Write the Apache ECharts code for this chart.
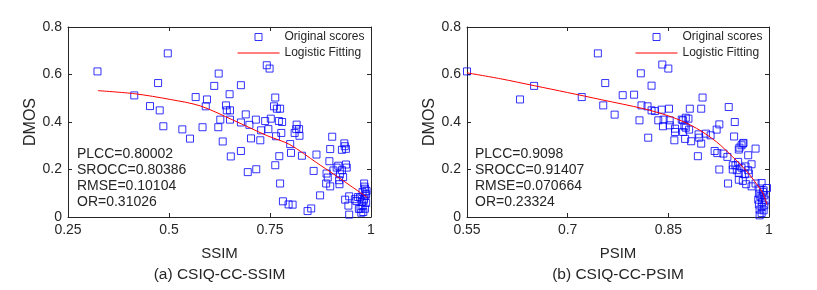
<!DOCTYPE html>
<html><head><meta charset="utf-8">
<script src="https://cdn.jsdelivr.net/npm/echarts@6/dist/echarts.min.js"></script>
<style>html,body{margin:0;padding:0;background:#fff}#c{width:817px;height:290px}</style>
</head><body><div id="c"></div>
<script>
// ---- data ----
const ssimPoints = [[0.323,0.613],[0.414,0.512],[0.497,0.689],[0.473,0.564],[0.453,0.467],[0.477,0.449],[0.486,0.382],[0.533,0.369],[0.552,0.330],[0.566,0.505],[0.583,0.378],[0.594,0.495],[0.591,0.466],[0.623,0.604],[0.612,0.552],[0.622,0.378],[0.627,0.410],[0.633,0.318],[0.641,0.470],[0.643,0.449],[0.651,0.449],[0.651,0.410],[0.650,0.517],[0.653,0.255],[0.678,0.555],[0.678,0.398],[0.678,0.278],[0.690,0.432],[0.699,0.388],[0.695,0.189],[0.703,0.331],[0.715,0.410],[0.716,0.201],[0.726,0.323],[0.728,0.365],[0.738,0.404],[0.742,0.639],[0.749,0.625],[0.746,0.370],[0.752,0.414],[0.763,0.503],[0.760,0.466],[0.767,0.456],[0.775,0.456],[0.765,0.340],[0.763,0.218],[0.772,0.404],[0.780,0.400],[0.778,0.354],[0.773,0.256],[0.775,0.141],[0.782,0.066],[0.796,0.053],[0.806,0.052],[0.800,0.307],[0.802,0.270],[0.816,0.389],[0.811,0.354],[0.815,0.370],[0.822,0.370],[0.823,0.342],[0.829,0.258],[0.843,0.025],[0.852,0.036],[0.858,0.194],[0.865,0.263],[0.874,0.091],[0.889,0.141],[0.890,0.183],[0.893,0.166],[0.899,0.129],[0.897,0.235],[0.899,0.286],[0.904,0.338],[0.907,0.196],[0.915,0.208],[0.919,0.216],[0.928,0.197],[0.938,0.221],[0.940,0.208],[0.923,0.180],[0.931,0.168],[0.921,0.155],[0.922,0.138],[0.928,0.283],[0.934,0.310],[0.935,0.298],[0.938,0.287],[0.936,0.073],[0.946,0.087],[0.944,0.048],[0.946,0.010],[0.960,0.075],[0.968,0.084],[0.964,0.067],[0.983,0.141],[0.985,0.119],[0.989,0.110],[0.979,0.105],[0.988,0.096],[0.973,0.082],[0.983,0.077],[0.977,0.063],[0.988,0.059],[0.979,0.045],[0.985,0.035],[0.974,0.035],[0.981,0.021],[0.970,0.034],[0.976,0.018],[0.984,0.128],[0.986,0.090],[0.982,0.070]];
const ssimFit = [[0.324,0.532],[0.415,0.519],[0.503,0.495],[0.577,0.468],[0.660,0.407],[0.742,0.343],[0.799,0.305],[0.866,0.228],[0.907,0.181],[0.948,0.133],[0.991,0.082]];
const psimPoints = [[0.550,0.613],[0.629,0.495],[0.650,0.552],[0.721,0.505],[0.745,0.689],[0.753,0.470],[0.756,0.564],[0.770,0.431],[0.782,0.513],[0.799,0.515],[0.807,0.407],[0.809,0.605],[0.810,0.470],[0.819,0.466],[0.820,0.334],[0.825,0.553],[0.825,0.449],[0.830,0.446],[0.840,0.452],[0.835,0.407],[0.841,0.642],[0.850,0.625],[0.843,0.410],[0.842,0.382],[0.852,0.407],[0.852,0.386],[0.851,0.456],[0.860,0.372],[0.860,0.358],[0.859,0.323],[0.870,0.410],[0.876,0.376],[0.872,0.358],[0.881,0.368],[0.880,0.414],[0.875,0.329],[0.882,0.456],[0.876,0.418],[0.872,0.407],[0.874,0.382],[0.884,0.319],[0.899,0.309],[0.895,0.348],[0.896,0.334],[0.906,0.351],[0.913,0.344],[0.922,0.368],[0.926,0.390],[0.901,0.503],[0.899,0.456],[0.940,0.463],[0.949,0.400],[0.948,0.339],[0.894,0.256],[0.919,0.278],[0.923,0.269],[0.932,0.267],[0.938,0.253],[0.926,0.200],[0.939,0.141],[0.955,0.284],[0.956,0.292],[0.961,0.309],[0.959,0.302],[0.962,0.312],[0.969,0.260],[0.980,0.288],[0.974,0.222],[0.954,0.232],[0.946,0.218],[0.950,0.218],[0.946,0.200],[0.952,0.197],[0.959,0.208],[0.965,0.213],[0.969,0.197],[0.955,0.185],[0.964,0.180],[0.970,0.183],[0.955,0.157],[0.961,0.152],[0.966,0.138],[0.974,0.129],[0.980,0.141],[0.989,0.143],[0.997,0.122],[0.986,0.120],[0.992,0.112],[0.985,0.098],[0.993,0.091],[0.989,0.082],[0.984,0.073],[0.995,0.070],[0.990,0.063],[0.985,0.053],[0.993,0.049],[0.989,0.042],[0.986,0.031],[0.992,0.028],[0.989,0.017],[0.986,0.007],[0.991,0.105],[0.987,0.087]];
const psimFit = [[0.550,0.607],[0.600,0.582],[0.650,0.553],[0.700,0.524],[0.750,0.494],[0.813,0.456],[0.850,0.426],[0.875,0.398],[0.897,0.365],[0.922,0.316],[0.946,0.253],[0.966,0.195],[0.981,0.141],[0.991,0.099],[0.997,0.052]];
const yTicks = [0, 0.2, 0.4, 0.6, 0.8];
const ssimTicks = [0.25, 0.5, 0.75, 1];
const psimTicks = [0.55, 0.7, 0.85, 1];
const ssimStats = ['PLCC=0.80002', 'SROCC=0.80386', 'RMSE=0.10104', 'OR=0.31026'];
const psimStats = ['PLCC=0.9098', 'SROCC=0.91407', 'RMSE=0.070664', 'OR=0.23324'];
const xNames = ['SSIM', 'PSIM'];
const captions = ['(a) CSIQ-CC-SSIM', '(b) CSIQ-CC-PSIM'];
const yName = 'DMOS';
const seriesNames = ['Original scores', 'Logistic Fitting'];

// ---- style ----
const FONT = '"Liberation Sans", Arial, sans-serif';
const TXT = '#262626';
const grids = [
  { left: 68, top: 27, width: 303, height: 190 },
  { left: 467, top: 27, width: 302, height: 190 }
];

function xAxisPair(gi, ticks, name) {
  const base = {
    type: 'value', gridIndex: gi, min: ticks[0], max: ticks[ticks.length - 1],
    splitLine: { show: false },
    axisLine: { show: true, onZero: false, lineStyle: { color: TXT, width: 1 } },
    axisTick: { show: true, inside: true, length: 4, customValues: ticks, lineStyle: { color: TXT } }
  };
  return [
    Object.assign({}, base, {
      position: 'bottom', name: name, nameLocation: 'middle', nameGap: 29,
      nameTextStyle: { fontFamily: FONT, fontSize: 15, color: TXT },
      axisLabel: { show: true, customValues: ticks, margin: 6, fontFamily: FONT, fontSize: 14, color: TXT }
    }),
    Object.assign({}, base, { position: 'top', axisLabel: { show: false } })
  ];
}
function yAxisPair(gi) {
  const base = {
    type: 'value', gridIndex: gi, min: yTicks[0], max: yTicks[yTicks.length - 1], interval: yTicks[1] - yTicks[0],
    splitLine: { show: false },
    axisLine: { show: true, onZero: false, lineStyle: { color: TXT, width: 1 } },
    axisTick: { show: true, inside: true, length: 4, lineStyle: { color: TXT } }
  };
  return [
    Object.assign({}, base, {
      position: 'left', name: yName, nameLocation: 'middle', nameGap: 29,
      nameTextStyle: { fontFamily: FONT, fontSize: 16, color: TXT },
      axisLabel: { show: true, margin: 6, fontFamily: FONT, fontSize: 14, color: TXT }
    }),
    Object.assign({}, base, { position: 'right', axisLabel: { show: false } })
  ];
}

function scatterSeries(xi, yi, data) {
  return {
    type: 'scatter', name: seriesNames[0], xAxisIndex: xi, yAxisIndex: yi,
    data: data, symbol: 'rect', symbolSize: 7, z: 2,
    itemStyle: { color: 'rgba(0,0,0,0)', borderColor: '#0000ff', borderWidth: 1 },
    emphasis: { disabled: true }
  };
}
function fitSeries(xi, yi, data) {
  return {
    type: 'line', name: seriesNames[1], xAxisIndex: xi, yAxisIndex: yi,
    data: data, smooth: 0.3, symbol: 'none', showSymbol: false, z: 3,
    lineStyle: { color: '#ff0000', width: 1 }, itemStyle: { color: '#ff0000' },
    emphasis: { disabled: true }
  };
}
function legendAt(left) {
  return {
    left: left, top: 30, padding: 0, orient: 'vertical', itemWidth: 42, itemHeight: 7, itemGap: 2,
    selectedMode: false, symbolKeepAspect: true,
    data: [
      { name: seriesNames[0], icon: 'path://M0,0H10V10H0Z',
        itemStyle: { color: 'rgba(0,0,0,0)', borderColor: '#0000ff', borderWidth: 1 } },
      { name: seriesNames[1],
        itemStyle: { color: 'rgba(0,0,0,0)', borderColor: 'rgba(0,0,0,0)', borderWidth: 0 },
        lineStyle: { color: '#ff0000', width: 1 } }
    ],
    textStyle: { fontFamily: FONT, fontSize: 12, color: TXT, lineHeight: 14 }
  };
}
function statTexts(x, lines) {
  return lines.map((t, i) => ({
    type: 'text', x: x, y: 154 + i * 16,
    style: { text: t, fill: TXT, font: '14px ' + FONT, align: 'left', verticalAlign: 'middle' }
  }));
}
function captionText(cx, t) {
  return {
    type: 'text', x: cx, y: 275,
    style: { text: t, fill: TXT, font: '15.5px ' + FONT, align: 'center', verticalAlign: 'middle' }
  };
}

const chart = echarts.init(document.getElementById('c'), null, { renderer: 'canvas' });
chart.setOption({
  animation: false,
  backgroundColor: '#ffffff',
  grid: grids,
  xAxis: [].concat(xAxisPair(0, ssimTicks, xNames[0]), xAxisPair(1, psimTicks, xNames[1])),
  yAxis: [].concat(yAxisPair(0), yAxisPair(1)),
  legend: [legendAt(237), legendAt(635)],
  series: [
    scatterSeries(0, 0, ssimPoints), fitSeries(0, 0, ssimFit),
    scatterSeries(2, 2, psimPoints), fitSeries(2, 2, psimFit)
  ],
  graphic: [].concat(
    statTexts(77, ssimStats), statTexts(475, psimStats),
    [captionText(219.5, captions[0]), captionText(618, captions[1])]
  )
});
</script></body></html>
